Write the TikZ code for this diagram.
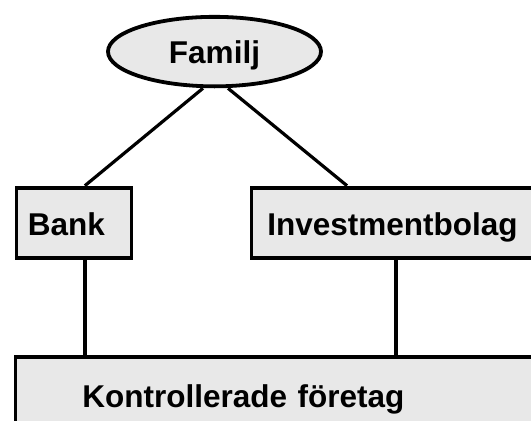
\documentclass[tikz,border=0pt]{standalone}
\usepackage{fontspec}
\setmainfont{Liberation Sans}
\usetikzlibrary{shapes.geometric}
\definecolor{boxfill}{RGB}{232,232,232}
\begin{document}
\begin{tikzpicture}[x=1pt,y=-1pt,
  lbl/.style={font=\fontsize{31.5}{38}\selectfont\bfseries},
  oval/.style={lbl,ellipse,draw,line width=3.8pt,fill=boxfill,inner sep=0pt,
     minimum width=213pt,minimum height=69.5pt,text height=22.8pt,text depth=0pt},
  orgbox/.style={lbl,rectangle,draw,line width=3.8pt,fill=boxfill,inner ysep=0pt,align=left},
  conn/.style={line width=3.2pt}]
\useasboundingbox (0,0) rectangle (531,421);
\clip (0,0) rectangle (531,421);
\fill[white] (0,0) rectangle (531,421);
\node[oval] (fam) at (214.5,51.6) {Familj};
\node[orgbox,anchor=north west,inner xsep=11.5pt,text width=92pt,
      minimum height=70.6pt,text height=26pt,text depth=0pt] (bank) at (14.5,185.7) {Bank};
\node[orgbox,anchor=north west,inner xsep=16pt,text width=300pt,
      minimum height=70.6pt,text height=26pt,text depth=0pt] (inv) at (249.5,185.7) {Investmentbolag};
\node[orgbox,anchor=north west,inner xsep=67pt,inner ysep=27.3pt,text width=500pt,
      text height=24pt,text depth=60pt] (ctrl) at (13.5,354.7) {Kontrollerade företag};
\draw[conn] ([xshift=-11.5pt]fam.south) -- ([xshift=11pt]bank.north);
\draw[conn] ([xshift=13.5pt]fam.south) -- ([xshift=97.5pt]inv.north west);
\draw[conn] ([xshift=11pt]bank.south) -- ([xshift=11pt]bank.south |- ctrl.north);
\draw[conn] ([xshift=146.5pt]inv.south west) -- ([xshift=146.5pt]inv.south west |- ctrl.north);
\end{tikzpicture}
\end{document}
